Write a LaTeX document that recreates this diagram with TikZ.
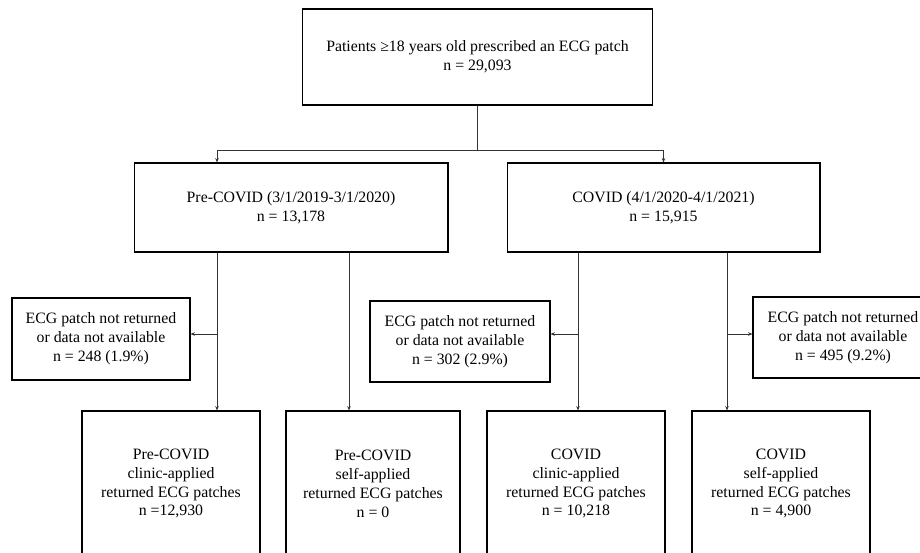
\documentclass[tikz,border=0pt]{standalone}
\usepackage{fontspec}
\setmainfont{Liberation Serif}
\usepackage{tikz}
\usetikzlibrary{arrows.meta}

\begin{document}
\begin{tikzpicture}[x=0.02cm, y=-0.02cm,
                    box/.style={draw, rectangle, line width=0.6pt, align=center, inner sep=2pt,
                                font=\fontsize{9}{10.8}\selectfont},
                    arr/.style={line width=0.45pt, draw=black!80,
                                -{Stealth[length=2.5pt, width=2pt]}}]
                \path [use as bounding box, clip] (0,0) rectangle (920,552);

                \node (top) [box, minimum width=7.02cm, minimum height=1.92cm] at (477.5,57)
                    {Patients ≥18 years old prescribed an ECG patch\\n = 29,093};
                \node (pre) [box, minimum width=6.28cm, minimum height=1.78cm] at (291,207.5)
                    {Pre-COVID (3/1/2019-3/1/2020)\\n = 13,178};
                \node (cov) [box, minimum width=6.26cm, minimum height=1.78cm] at (663.5,207.5)
                    {COVID (4/1/2020-4/1/2021)\\n = 15,915};

                \node (exL) [box, minimum width=3.56cm, minimum height=1.64cm] at (101,339)
                    {ECG patch not returned\\or data not available\\n = 248 (1.9\%)};
                \node (exM) [box, minimum width=3.6cm, minimum height=1.62cm] at (460,341.5)
                    {ECG patch not returned\\or data not available\\n = 302 (2.9\%)};
                \node (exR) [box, minimum width=3.6cm, minimum height=1.62cm] at (843,337.5)
                    {ECG patch not returned\\or data not available\\n = 495 (9.2\%)};

                \node (b1) [box, minimum width=3.56cm, minimum height=2.9cm] at (171,483.5)
                    {Pre-COVID\\clinic-applied\\returned ECG patches\\n =12,930};
                \node (b2) [box, minimum width=3.48cm, minimum height=2.9cm] at (373,483.5)
                    {Pre-COVID\\self-applied\\returned ECG patches\\n = 0};
                \node (b3) [box, minimum width=3.56cm, minimum height=2.9cm] at (576,483.5)
                    {COVID\\clinic-applied\\returned ECG patches\\n = 10,218};
                \node (b4) [box, minimum width=3.56cm, minimum height=2.9cm] at (781,483.5)
                    {COVID\\self-applied\\returned ECG patches\\n = 4,900};

                \coordinate (split) at (477.5,150);
                \coordinate (c1) at (217,0);
                \coordinate (c2) at (349,0);
                \coordinate (c3) at (578,0);
                \coordinate (c4) at (727,0);
                \coordinate (r) at (0,334);

                \draw [arr, -] (top.south) -- (split);
                \draw [arr] (split) -| (pre.north -| c1);
                \draw [arr] (split) -| (cov.north);

                \draw [arr] (pre.south -| c1) -- (b1.north -| c1);
                \draw [arr] (pre.south -| c2) -- (b2.north -| c2);
                \draw [arr] (cov.south -| c3) -- (b3.north -| c3);
                \draw [arr] (cov.south -| c4) -- (b4.north -| c4);

                \draw [arr] (c1 |- r) -- (exL.east |- r);
                \draw [arr] (c3 |- r) -- (exM.east |- r);
                \draw [arr] (c4 |- r) -- (exR.west |- r);
            \end{tikzpicture}
\end{document}
